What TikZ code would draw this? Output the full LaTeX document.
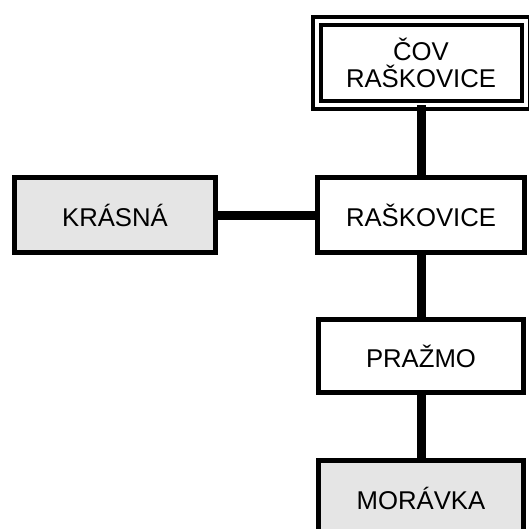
\documentclass[tikz,border=0pt]{standalone}
\usepackage{fontspec}
\setmainfont{Liberation Sans}
\usetikzlibrary{positioning}
\definecolor{ink}{HTML}{000000}
\definecolor{greyfill}{HTML}{E5E5E5}
\tikzset{
  every node/.style={font=\fontsize{25.7}{27}\selectfont, text=ink},
  box/.style={draw=ink, line width=5pt, fill=white, align=center, outer sep=0pt, inner sep=0pt, minimum width=205pt, minimum height=75pt},
  greybox/.style={box, fill=greyfill},
  doublebox/.style={box, line width=4pt, double=white, double distance=4pt, minimum width=209pt, minimum height=84.5pt},
  link/.style={draw=ink, line width=9pt},
}
\begin{document}
\begin{tikzpicture}[x=1pt, y=-1pt]
\useasboundingbox (0,0) rectangle (528,529);
\node[box, minimum width=207pt] (raskovice) at (421,215) {RAŠKOVICE};
\node[greybox, left=102pt of raskovice, minimum width=201pt] (krasna) {KRÁSNÁ};
\node[doublebox, above=72pt of raskovice] (cov) {ČOV\\RAŠKOVICE};
\node[box, below=67pt of raskovice, minimum height=73pt] (prazmo) {PRAŽMO};
\node[greybox, below=68pt of prazmo] (moravka) {MORÁVKA};
\draw[link] (cov.south) -- (raskovice.north);
\draw[link] (krasna.east) -- (raskovice.west);
\draw[link] (raskovice.south) -- (prazmo.north);
\draw[link] (prazmo.south) -- (moravka.north);
\end{tikzpicture}
\end{document}
